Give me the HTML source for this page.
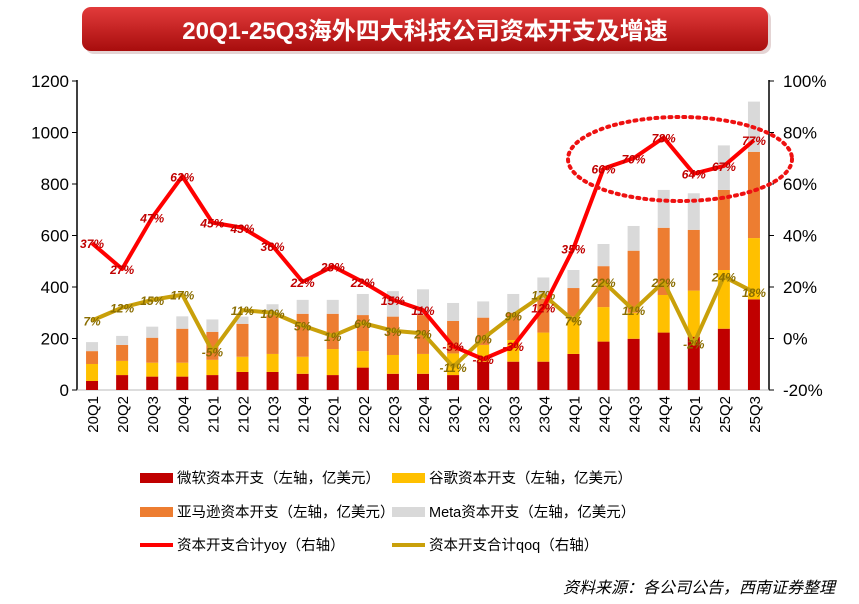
<!DOCTYPE html>
<html><head><meta charset="utf-8"><style>
body{margin:0;background:#fff;}
svg text{font-family:"Liberation Sans","Noto Sans CJK SC",sans-serif;}
</style></head><body>
<svg width="859" height="599" viewBox="0 0 859 599" xmlns="http://www.w3.org/2000/svg">
<defs>
<linearGradient id="tg" x1="0" y1="0" x2="0" y2="1"><stop offset="0" stop-color="#e23b3b"/><stop offset="1" stop-color="#a80d0d"/></linearGradient>
</defs>
<rect x="85" y="10" width="686" height="44" rx="9" fill="#c9a9a9" opacity="0.5"/>
<rect x="82" y="7" width="686" height="44" rx="9" fill="url(#tg)"/>
<text x="425" y="39" text-anchor="middle" fill="#fff" font-size="24" font-weight="bold">20Q1-25Q3海外四大科技公司资本开支及增速</text>
<g id="plot"></g>
<g id="legend"></g>
<text x="835" y="593" text-anchor="end" font-size="16" font-style="italic" fill="#000">资料来源：各公司公告，西南证券整理</text>
</svg>
<script>
const categories=["20Q1","20Q2","20Q3","20Q4","21Q1","21Q2","21Q3","21Q4","22Q1","22Q2","22Q3","22Q4","23Q1","23Q2","23Q3","23Q4","24Q1","24Q2","24Q3","24Q4","25Q1","25Q2","25Q3"];
const msft=[35,58,52,52,58,70,70,63,58,87,63,63,58,110,110,110,140,188,199,223,207,238,352];
const goog=[66,55,54,54,59,59,70,66,101,64,73,77,84,65,84,113,145,134,101,146,179,228,238];
const amzn=[50,62,97,132,109,128,151,167,137,140,149,151,126,106,106,132,111,159,241,261,236,311,335];
const meta=[35,35,43,48,48,28,42,54,54,82,99,100,70,63,73,82,70,86,96,147,142,173,195];
const yoy=[37,27,47,63,45,43,36,22,28,22,15,11,-3,-8,-3,12,35,66,70,78,64,67,77];
const qoq=[7,12,15,17,-5,11,10,5,1,6,3,2,-11,0,9,17,7,22,11,22,-2,24,18];
const leftTicks=[0,200,400,600,800,1000,1200];
const rightTicks=[-20,0,20,40,60,80,100];

const NS="http://www.w3.org/2000/svg";
const plot=document.getElementById('plot');
const X0=77,X1=769,Y0=390,Y1=81;
const step=(X1-X0)/categories.length;
const xc=i=>X0+step*(i+0.5);
const yL=v=>Y0-(v/1200)*(Y0-Y1);
const yR=v=>Y0-((v+20)/120)*(Y0-Y1);
function el(t,a,p){const e=document.createElementNS(NS,t);for(const k in a)e.setAttribute(k,a[k]);(p||plot).appendChild(e);return e;}

let ax=el('line',{x1:X0,y1:Y1-1,x2:X0,y2:Y0,stroke:'#000','stroke-width':1.5});


let ax2=el('line',{x1:X1,y1:Y1-1,x2:X1,y2:Y0,stroke:'#000','stroke-width':1.5});


let ax3=el('line',{x1:X0,y1:Y0,x2:X1,y2:Y0,stroke:'#bbb','stroke-width':1});


leftTicks.forEach(v=>{
 el('line',{x1:X0-5,y1:yL(v),x2:X0,y2:yL(v),stroke:'#000'});
 const t=el('text',{x:X0-8,y:yL(v)+6,'text-anchor':'end','font-size':17,fill:'#000'});t.textContent=v;
 
 
});
rightTicks.forEach(v=>{
 el('line',{x1:X1,y1:yR(v),x2:X1+5,y2:yR(v),stroke:'#000'});
 const t=el('text',{x:X1+14,y:yR(v)+6,'font-size':17,fill:'#000'});t.textContent=v+'%';
 
 
});
const series=[[msft,'#c00000','msft'],[goog,'#ffc000','google'],[amzn,'#ed7d31','amazon'],[meta,'#d9d9d9','meta']];
const bw=12;
categories.forEach((c,i)=>{
 let base=0;
 series.forEach(([arr,col,nm])=>{
  const v=arr[i];
  const r=el('rect',{x:xc(i)-bw/2,y:yL(base+v),width:bw,height:yL(base)-yL(base+v),fill:col});
  
  
  base+=v;
 });
 const t=el('text',{transform:`translate(${xc(i)+6},${Y0+6}) rotate(-90)`,'text-anchor':'end','font-size':15,fill:'#000'});
 t.textContent=c;
 
 
});
function line(arr,col,nm,lblCol){
 const p=el('polyline',{points:arr.map((v,i)=>xc(i)+','+yR(v)).join(' '),fill:'none',stroke:col,'stroke-width':4,'stroke-linejoin':'round'});
 
 
 arr.forEach((v,i)=>{
  const t=el('text',{x:xc(i),y:yR(v)+5,'text-anchor':'middle','font-size':12,'font-style':'italic','font-weight':'bold',fill:lblCol});
  t.textContent=v+'%';
  
  
 });
}
line(qoq,'#c9a00a','qoq','#8a6d00');
line(yoy,'#ff0000','yoy','#c00000');
const e=el('ellipse',{cx:680,cy:159,rx:112,ry:42,fill:'none',stroke:'#ee1111','stroke-width':4,'stroke-dasharray':'2 5','stroke-linecap':'round'});


const lg=document.getElementById('legend');
const items=[['微软资本开支（左轴，亿美元）','#c00000',140,478,'bar'],['谷歌资本开支（左轴，亿美元）','#ffc000',392,478,'bar'],
['亚马逊资本开支（左轴，亿美元）','#ed7d31',140,512,'bar'],['Meta资本开支（左轴，亿美元）','#d9d9d9',392,512,'bar'],
['资本开支合计yoy（右轴）','#ff0000',140,545,'line'],['资本开支合计qoq（右轴）','#c9a00a',392,545,'line']];
items.forEach(([txt,col,x,y,k])=>{
 const s=k==='bar'?el('rect',{x:x,y:y-5,width:33,height:10,fill:col},lg):el('line',{x1:x,y1:y,x2:x+33,y2:y,stroke:col,'stroke-width':4},lg);
 
 
 const t=el('text',{x:x+37,y:y+5,'font-size':14.5,fill:'#000'},lg);t.textContent=txt;
 
 
});
</script>
</body></html>
